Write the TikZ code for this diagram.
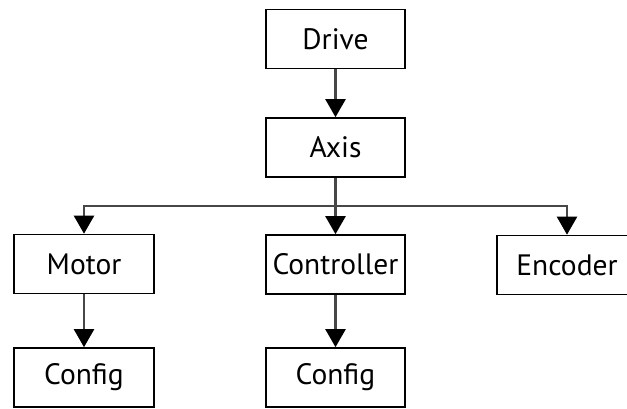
\documentclass[tikz,border=0pt]{standalone}
\usepackage{fontspec}
\setmainfont{PT Sans}
\usetikzlibrary{arrows.meta}

\tikzset{
  block/.style={draw, line width=1.6pt, minimum width=139pt, minimum height=59pt,
    inner sep=0pt, font=\fontsize{29.5}{32}\selectfont},
  link/.style={draw=black!72, line width=2.2pt,
    -{Triangle[width=20pt,length=18pt,color=black]}}
}

\begin{document}
\begin{tikzpicture}[x=1pt, y=-1pt]
        \useasboundingbox (0,0) rectangle (627,409);

        % Top of the tree
        \node[block] (drive) at (335.5,39) {Drive};
        \node[block] (axis) at (335.5,147.5) {Axis};

        % Second row
        \node[block, minimum width=140pt] (motor) at (84,264) {Motor};
        \node[block] (ctrl) at (335.5,264.5) {Controller};
        \node[block, minimum width=140pt] (enc) at (567,265) {Encoder};

        % Third row
        \node[block, minimum width=140pt] (cfgm) at (84,377.5) {Config};
        \node[block] (cfgc) at (335.5,377.5) {Config};

        \draw[link] (drive) -- (axis);
        \coordinate (bus) at ([yshift=-28pt]axis.south);
        \draw[link] (axis.south) -- (bus) -| (motor.north);
        \draw[link] (axis.south) -- (bus) -| (enc.north);
        \draw[link] (axis) -- (ctrl);
        \draw[link] (motor) -- (cfgm);
        \draw[link] (ctrl) -- (cfgc);
    \end{tikzpicture}
\end{document}
